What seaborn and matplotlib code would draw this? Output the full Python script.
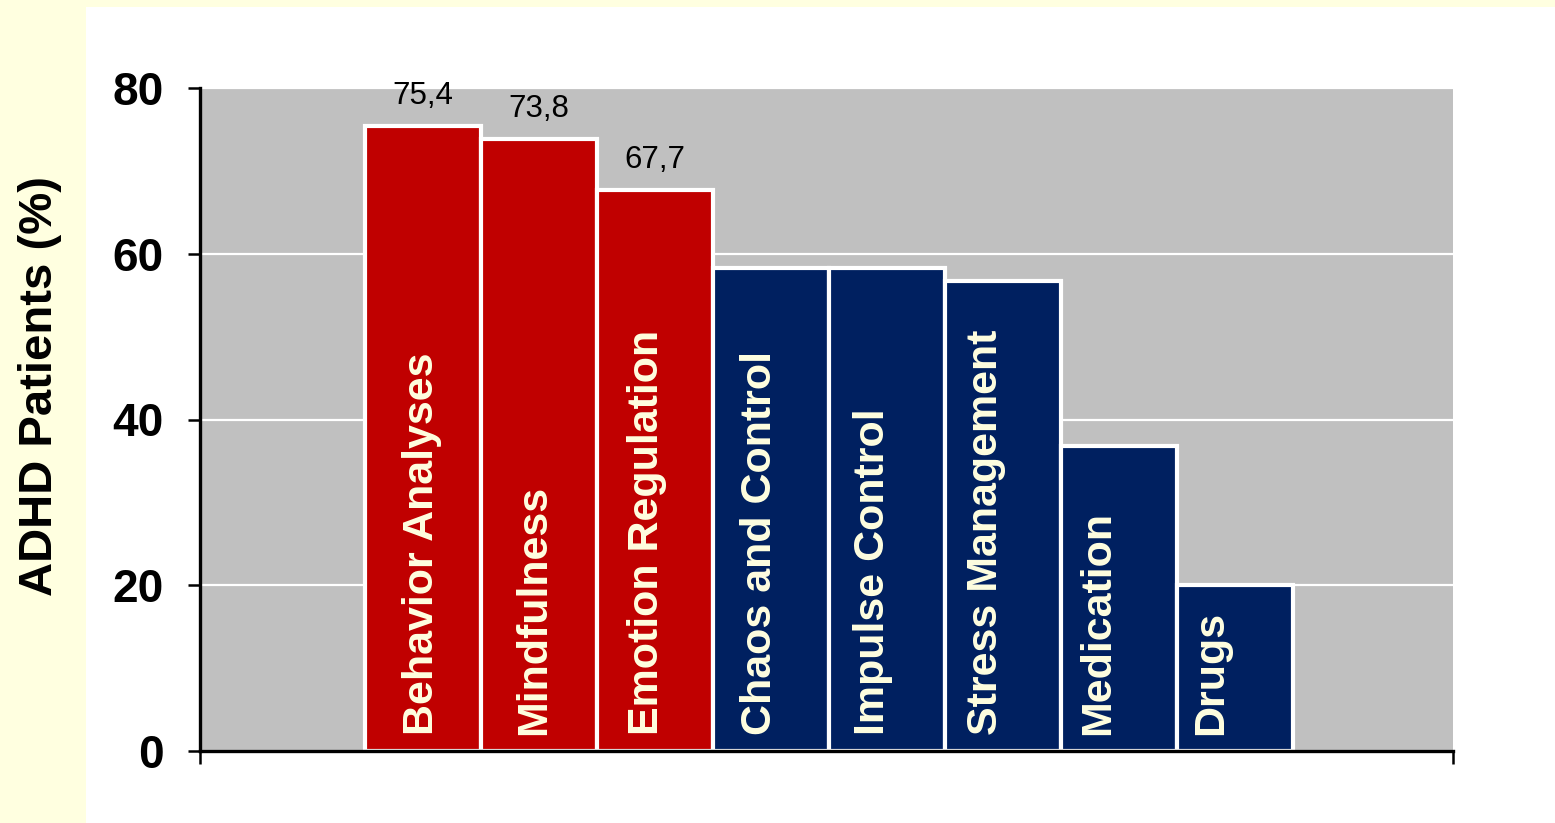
import matplotlib
matplotlib.use("Agg")
import matplotlib.pyplot as plt
import seaborn as sns
import pandas as pd
from matplotlib.patches import Rectangle

# Therapy modules and share of ADHD patients rating them (%)
categories = ["Behavior Analyses", "Mindfulness", "Emotion Regulation",
              "Chaos and Control", "Impulse Control", "Stress Management",
              "Medication", "Drugs"]
values = [75.4, 73.8, 67.7, 58.3, 58.3, 56.7, 36.8, 20.0]
groups = ["top", "top", "top", "rest", "rest", "rest", "rest", "rest"]
value_labels = ["75,4", "73,8", "67,7", None, None, None, None, None]
y_ticks = [0, 20, 40, 60, 80]

RED = "#C00000"
NAVY = "#002060"
CREAM = "#FFFFE0"
GRAY = "#C0C0C0"

sns.set_style("white")
plt.rcParams["font.family"] = ["Liberation Sans", "DejaVu Sans"]
plt.rcParams["text.color"] = "black"
plt.rcParams["axes.labelcolor"] = "black"
plt.rcParams["xtick.color"] = "black"
plt.rcParams["ytick.color"] = "black"

df = pd.DataFrame({"module": categories, "pct": values, "group": groups})

W, H = 1555, 823
fig = plt.figure(figsize=(W / 100, H / 100), dpi=100, facecolor=CREAM)
# white panel behind the chart
fig.patches.append(Rectangle((86 / W, 0), 1 - 86 / W, (H - 7) / H,
                             transform=fig.transFigure, facecolor="white",
                             edgecolor="none", zorder=-5))

ax = fig.add_axes([200 / W, (H - 751) / H, (1453 - 200) / W, (751 - 88) / H])
ax.set_zorder(1)
ax.set_facecolor(GRAY)

sns.barplot(data=df, x="module", y="pct", hue="group",
            palette={"top": RED, "rest": NAVY}, saturation=1, dodge=False,
            width=1.0, edgecolor="white", linewidth=3, legend=False, ax=ax,
            zorder=3)

ax.set_xlim(-0.5 - 165 / 116, 7.5 + 160 / 116)
ax.set_ylim(0, 80)
ax.set_yticks(y_ticks)
ax.set_yticklabels([str(t) for t in y_ticks], fontsize=33, fontweight="bold",
                   color="black")
ax.yaxis.grid(True, color="white", linewidth=1.6, zorder=0)
ax.set_axisbelow(True)

# bottom axis: ticks only at both ends, no labels
xl = ax.get_xlim()
ax.set_xticks([xl[0], xl[1]])
ax.set_xticklabels([])
ax.set_xlim(xl)
ax.set_xlabel("")
ax.set_ylabel("")

for s in ["top", "right"]:
    ax.spines[s].set_visible(False)
for s in ["left", "bottom"]:
    ax.spines[s].set_color("black")
    ax.spines[s].set_linewidth(2.4)
    ax.spines[s].set_zorder(5)
ax.tick_params(axis="y", direction="out", length=9, width=1.8, pad=17,
               colors="black", left=True)
ax.tick_params(axis="x", direction="out", length=9, width=1.8, bottom=True,
               colors="black")

# category names written inside the bars (label spacing slightly tighter
# than the bar spacing, so later labels sit a little left of centre)
label_step = 0.972
for i, name in enumerate(categories):
    ax.text(i * label_step - 0.01, 1.9, name, rotation=90, ha="center",
            va="bottom", fontsize=31, fontweight="bold", color=CREAM,
            zorder=6)

# value labels above the highlighted bars
for i, (v, lab) in enumerate(zip(values, value_labels)):
    if lab is not None:
        ax.annotate(lab, (i, v), xytext=(0, 11), textcoords="offset points",
                    ha="center", va="bottom", fontsize=22.5, color="black",
                    zorder=6, annotation_clip=False)

fig.text(40 / W, 1 - 386 / H, "ADHD Patients (%)", rotation=90,
         ha="center", va="center", fontsize=34, fontweight="bold",
         color="black")

fig.savefig("out.png", dpi=100, facecolor=fig.get_facecolor())
